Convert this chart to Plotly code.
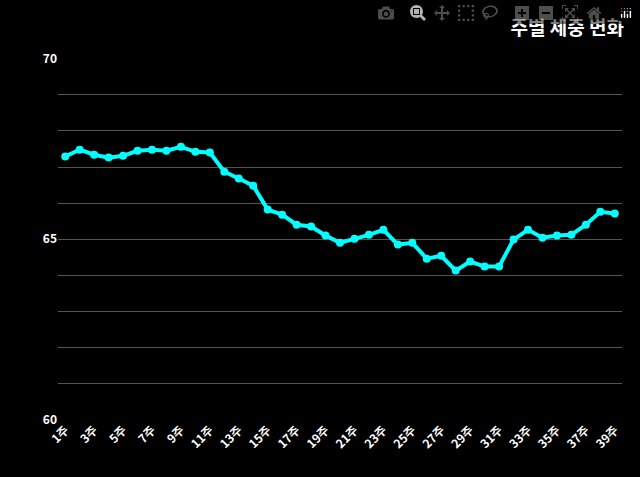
import plotly.graph_objects as go

weeks = [f"{i}주" for i in range(1, 40)]
weights = [67.29, 67.48, 67.34, 67.26, 67.31, 67.45, 67.48, 67.45, 67.56, 67.42,
           67.40, 66.87, 66.68, 66.48, 65.82, 65.68, 65.40, 65.35, 65.10, 64.90,
           65.01, 65.12, 65.26, 64.85, 64.90, 64.46, 64.54, 64.13, 64.38, 64.24,
           64.24, 64.99, 65.26, 65.04, 65.10, 65.12, 65.40, 65.76, 65.71]
y_ticks = list(range(60, 71))
y_labels = [str(v) if v % 5 == 0 else "" for v in y_ticks]

fig = go.Figure()
fig.add_trace(go.Scatter(x=weeks, y=weights, mode="lines+markers",
                         line=dict(color="#00ffff", width=4),
                         marker=dict(color="#00ffff", size=8)))

fig.update_layout(
    width=640, height=477,
    paper_bgcolor="black", plot_bgcolor="black",
    font=dict(family="Noto Sans CJK KR", color="white"),
    title=dict(text="<b>주별 체중 변화</b>", x=0.975, xanchor="right", y=0.955,
               font=dict(size=19, color="white")),
    margin=dict(l=58, r=18, t=58, b=57),
    showlegend=False,
    xaxis=dict(tickangle=-45, tickvals=weeks[::2], showgrid=False,
               tickfont=dict(size=12, color="white", weight="bold"),
               range=[-0.5, 38.5], zeroline=False),
    yaxis=dict(range=[59.99, 70.02], tickvals=y_ticks, ticktext=y_labels,
               gridcolor="#555555", gridwidth=1, zeroline=False,
               tickfont=dict(size=12, color="white", weight="bold")),
)

fig.write_html("out.html", post_script="document.body.style.margin='0';document.body.style.background='black';")
